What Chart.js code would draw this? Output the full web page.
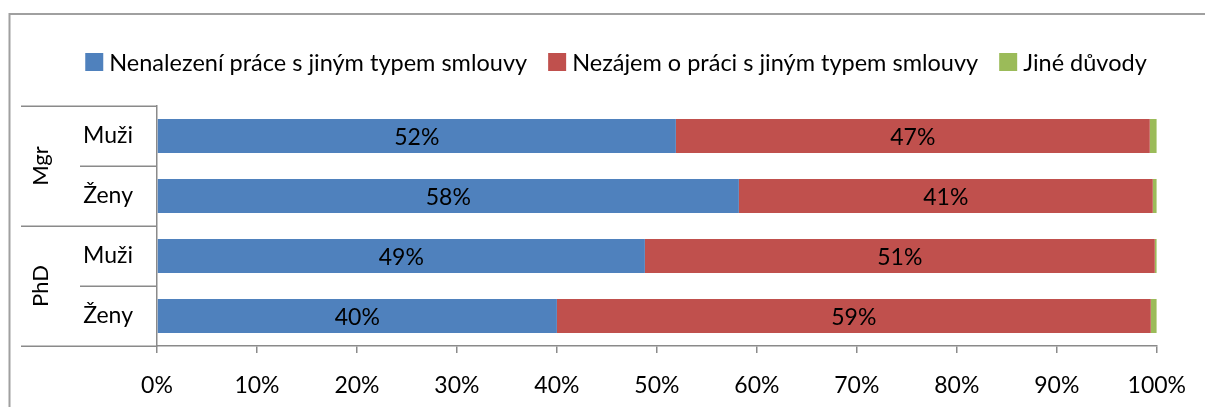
<!DOCTYPE html>
<html><head><meta charset="utf-8">
<script src="https://cdn.jsdelivr.net/npm/chart.js@4.4.0/dist/chart.umd.min.js"></script>
<style>html,body{margin:0;padding:0;background:#fff;}#wrap{width:1205px;height:407px;position:relative;}</style>
</head><body><div id="wrap"><canvas id="c" width="1205" height="407"></canvas></div>
<script>
// ---- data ----
const categories = ['Muži', 'Ženy', 'Muži', 'Ženy'];
const groups = ['Mgr', 'PhD'];
const groupSizes = [2, 2];
const seriesNames = ['Nenalezení práce s jiným typem smlouvy', 'Nezájem o práci s jiným typem smlouvy', 'Jiné důvody'];
const notFound = [51.9, 58.2, 48.8, 40.0];
const notInterested = [47.4, 41.4, 51.0, 59.4];
const otherReasons = [0.7, 0.4, 0.2, 0.6];
const xMin = 0, xMax = 100, xStep = 10;

const COLORS = ['#4F81BD', '#C0504D', '#9BBB59'];
const FONT = 'Lato';
const GRAY = '#8a8a8a';

const structurePlugin = {
  id: 'structure',
  beforeDraw(chart) {
    const ctx = chart.ctx;
    ctx.save();
    ctx.fillStyle = '#fff';
    ctx.fillRect(0, 0, chart.width, chart.height);
    ctx.strokeStyle = '#a0a0a0';
    ctx.lineWidth = 2;
    ctx.beginPath();
    ctx.moveTo(9.5, chart.height + 2);
    ctx.lineTo(9.5, 14);
    ctx.lineTo(chart.width + 2, 14);
    ctx.stroke();
    ctx.restore();
  },
  afterDraw(chart) {
    const ctx = chart.ctx;
    const y = chart.scales.y;
    const area = chart.chartArea;
    const n = categories.length;
    const step = (area.bottom - area.top) / n;
    ctx.save();
    ctx.strokeStyle = GRAY;
    ctx.lineWidth = 1.5;
    let idx = 0;
    const groupBounds = [0];
    groupSizes.forEach(s => { idx += s; groupBounds.push(idx); });
    for (let i = 0; i <= n; i++) {
      const py = Math.round(y.getPixelForValue(Math.min(i, n - 1)) + (i === n ? step / 2 : -step / 2)) + 0.25;
      const isGroup = groupBounds.includes(i);
      ctx.beginPath();
      ctx.moveTo(isGroup ? 21 : 80, py);
      ctx.lineTo(area.left, py);
      ctx.stroke();
    }
    ctx.fillStyle = '#000';
    ctx.font = '22px ' + FONT;
    ctx.textAlign = 'center';
    ctx.textBaseline = 'middle';
    let start = 0;
    groups.forEach((g, gi) => {
      const end = start + groupSizes[gi] - 1;
      const cy = (y.getPixelForValue(start) + y.getPixelForValue(end)) / 2;
      ctx.save();
      ctx.translate(41, cy);
      ctx.rotate(-Math.PI / 2);
      ctx.fillText(g, 0, 0);
      ctx.restore();
      start += groupSizes[gi];
    });
    // legend
    ctx.font = '23.5px ' + FONT;
    ctx.textAlign = 'left';
    const box = 18, gapText = 6, gapItem = 21;
    const widths = chart.data.datasets.map(d => ctx.measureText(d.label).width);
    const total = widths.reduce((a, w) => a + box + gapText + w, 0) + gapItem * (widths.length - 1);
    let lx = 616 - total / 2;
    const ly = 62;
    chart.data.datasets.forEach((d, i) => {
      ctx.fillStyle = d.backgroundColor;
      ctx.fillRect(lx, ly - box / 2, box, box);
      ctx.fillStyle = '#000';
      ctx.fillText(d.label, lx + box + gapText, ly + 1);
      lx += box + gapText + widths[i] + gapItem;
    });
    ctx.restore();
  },
  afterDatasetsDraw(chart) {
    const ctx = chart.ctx;
    ctx.save();
    ctx.font = '23px ' + FONT;
    ctx.fillStyle = '#000';
    ctx.textAlign = 'center';
    ctx.textBaseline = 'middle';
    chart.data.datasets.forEach((d, di) => {
      const meta = chart.getDatasetMeta(di);
      meta.data.forEach((el, i) => {
        const v = d.data[i];
        if (v < 5) return;
        const p = el.getProps(['x', 'y', 'base'], true);
        ctx.fillText(Math.round(v) + '%', (p.x + p.base) / 2, p.y + 2);
      });
    });
    ctx.restore();
  }
};

new Chart(document.getElementById('c'), {
  type: 'bar',
  data: {
    labels: categories,
    datasets: [
      { label: seriesNames[0], data: notFound, backgroundColor: COLORS[0] },
      { label: seriesNames[1], data: notInterested, backgroundColor: COLORS[1] },
      { label: seriesNames[2], data: otherReasons, backgroundColor: COLORS[2] }
    ]
  },
  options: {
    indexAxis: 'y',
    responsive: false,
    animation: false,
    devicePixelRatio: 1,
    layout: { padding: { top: 106, right: 47, left: 0, bottom: 0 } },
    datasets: { bar: { barPercentage: 0.567, categoryPercentage: 1.0, borderWidth: 0 } },
    plugins: { legend: { display: false }, tooltip: { enabled: false } },
    scales: {
      x: {
        stacked: true, min: xMin, max: xMax,
        afterFit(s) { s.height = 61; },
        grid: { display: true, drawOnChartArea: false, drawTicks: true, tickLength: 7, color: GRAY, lineWidth: 1.5 },
        border: { display: true, color: GRAY, width: 1.5 },
        ticks: { stepSize: xStep, padding: 19, color: '#000', font: { family: FONT, size: 23 }, callback: v => v + '%', maxRotation: 0 }
      },
      y: {
        stacked: true,
        afterFit(s) { s.width = 157; },
        grid: { display: false, drawTicks: false },
        border: { display: true, color: GRAY, width: 1.5 },
        ticks: { padding: 24, color: '#000', font: { family: FONT, size: 23 } }
      }
    }
  },
  plugins: [structurePlugin]
});
</script></body></html>
